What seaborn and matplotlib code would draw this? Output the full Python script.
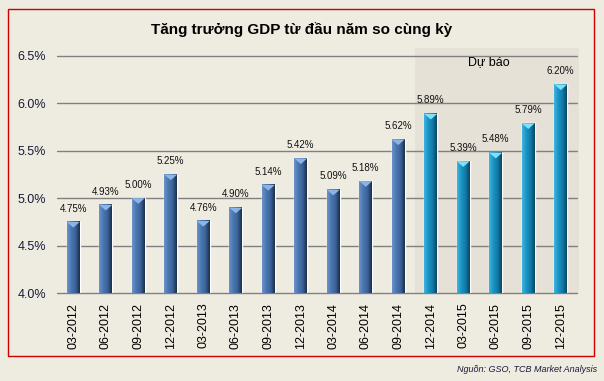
import numpy as np
import pandas as pd
import matplotlib
matplotlib.use("Agg")
import matplotlib.pyplot as plt
from matplotlib.patches import Rectangle
from matplotlib.colors import LinearSegmentedColormap
import seaborn as sns

periods = ['03-2012', '06-2012', '09-2012', '12-2012', '03-2013', '06-2013',
           '09-2013', '12-2013', '03-2014', '06-2014', '09-2014', '12-2014',
           '03-2015', '06-2015', '09-2015', '12-2015']
growth = [4.75, 4.93, 5.00, 5.25, 4.76, 4.90, 5.14, 5.42, 5.09, 5.18, 5.62,
          5.89, 5.39, 5.48, 5.79, 6.20]
kind = ['Thực tế'] * 11 + ['Dự báo'] * 5
yticks = [4.0, 4.5, 5.0, 5.5, 6.0, 6.5]

df = pd.DataFrame({'period': periods, 'growth': growth, 'kind': kind})

sns.set_theme(style="white")
plt.rcParams['font.family'] = ['Liberation Sans', 'DejaVu Sans']

BG = '#EEEBE0'
YMIN, YMAX = 4.0, 6.5
fig = plt.figure(figsize=(6.04, 3.81), dpi=100, facecolor=BG)
ax = fig.add_axes([57 / 604, 1 - 293 / 381, 520 / 604, 237 / 381])
ax.set_facecolor(BG)

# forecast shaded region
ax.add_patch(Rectangle((10.5, YMIN), 5.05, 2.585, facecolor='#E5E1D7',
                       edgecolor='none', zorder=0, clip_on=False))

sns.barplot(data=df, x='period', y='growth', hue='kind', dodge=False,
            palette={'Thực tế': '#3D6AA5', 'Dự báo': '#1488B8'},
            width=0.4, ax=ax, legend=False, zorder=3)

ax.set_ylim(YMIN, YMAX)
ax.set_xlim(-0.5, 15.5)
ax.set_yticks(yticks)
ax.set_yticklabels([f'{t:.1f}%' for t in yticks], fontsize=9, color='#1a1a3a')
ax.set_xticks(range(len(periods)))
ax.set_xticklabels(periods, rotation=90, fontsize=9, color='black')
ax.tick_params(axis='both', length=0)
ax.tick_params(axis='y', pad=8)
ax.tick_params(axis='x', pad=7)
ax.set_xlabel('')
ax.set_ylabel('')
for s in ax.spines.values():
    s.set_visible(False)
for t in yticks:
    ax.axhline(t, color='#808080', lw=1.0, zorder=1, clip_on=False)

cmap_dark = LinearSegmentedColormap.from_list('d', ['#6A93C8', '#4A77B0', '#3A6299', '#1C2E48'])
cmap_cyan = LinearSegmentedColormap.from_list('c', ['#3DB6E0', '#1A93C4', '#117AA6', '#0A4563'])
grad = np.linspace(0, 1, 64).reshape(1, -1)

bars = sorted([p for p in ax.patches if p.get_height() > 0 and p.get_width() < 1],
              key=lambda p: p.get_x())
for i, p in enumerate(bars):
    x0, w, h = p.get_x(), p.get_width(), p.get_height()
    top = p.get_y() + h
    cm = cmap_cyan if kind[i] == 'Dự báo' else cmap_dark
    ax.imshow(grad, cmap=cm, aspect='auto', extent=(x0, x0 + w, YMIN, top),
              zorder=4)
    tri_col = '#7FE0F8' if kind[i] == 'Dự báo' else '#8DB4E6'
    ax.fill([x0, x0 + w, x0 + w / 2], [top, top, top - 0.06],
            color=tri_col, zorder=5, lw=0)
    ax.annotate(f'{growth[i]:.2f}%', (x0 + w / 2, top), xytext=(0, 6),
                textcoords='offset points', ha='center', va='bottom',
                fontsize=7, color='#111111', zorder=6)
ax.set_xlim(-0.5, 15.5)
ax.set_ylim(YMIN, YMAX)

ax.text(12.8, 6.44, 'Dự báo', ha='center', va='center', fontsize=9,
        color='black', zorder=6)

fig.text(302 / 604, 1 - 30 / 381, 'Tăng trưởng GDP từ đầu năm so cùng kỳ',
         ha='center', va='center', fontsize=11, fontweight='bold', color='black')
fig.text(597 / 604, 1 - 370 / 381, 'Nguồn: GSO, TCB Market Analysis',
         ha='right', va='center', fontsize=6.5, style='italic', color='#1a1a3a')

fig.patches.append(Rectangle((8 / 604, 1 - 356 / 381), 586 / 604, 347 / 381,
                             transform=fig.transFigure, fill=False,
                             edgecolor='#CC0000', lw=1.0))

fig.savefig('out.png', dpi=100, facecolor=BG)
